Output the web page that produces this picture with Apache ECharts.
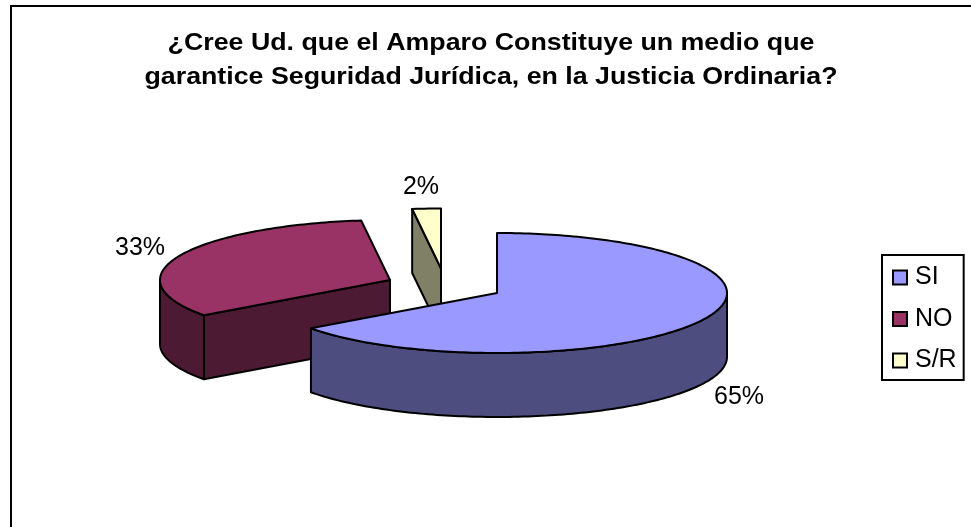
<!DOCTYPE html>
<html><head><meta charset="utf-8">
<style>html,body{margin:0;padding:0;background:#fff}#c{width:971px;height:527px}</style>
<script src="https://cdn.jsdelivr.net/npm/echarts@6/dist/echarts.min.js"></script>
</head><body><div id="c"></div>
<script>
const titleLines = ['¿Cree Ud. que el Amparo Constituye un medio que', 'garantice Seguridad Jurídica, en la Justicia Ordinaria?'];
const categories = ['SI', 'NO', 'S/R'];
const values = [65, 33, 2];
const topColors = ['#9999FF', '#993366', '#FFFFCC'];
const sideColors = ['#4D4D80', '#4D1A33', '#808066'];

const total = values.reduce((a, b) => a + b, 0);
const RX = 230, RY = 60, DEPTH = 64;
// pie apex of each exploded slice and its label anchor
const layout = [
  { cx: 497, cy: 293, lx: 739, ly: 397 },
  { cx: 390, cy: 280, lx: 140, ly: 248 },
  { cx: 441, cy: 268.5, lx: 421, ly: 187 }
];
function pt(s, t, dy) {
  return [s.cx + RX * Math.sin(t), s.cy - RY * Math.cos(t) + (dy || 0)];
}
function arcPts(s, a, b, dy) {
  const n = Math.max(2, Math.ceil(Math.abs(b - a) / 0.02)), out = [];
  for (let i = 0; i <= n; i++) out.push(pt(s, a + (b - a) * i / n, dy));
  return out;
}
const line = { stroke: '#000', lineWidth: 2, lineJoin: 'round' };
function poly(points, fill) {
  return { type: 'polygon', shape: { points }, style: Object.assign({ fill }, line) };
}
function drawSlice(idx, params, api) {
  const s = layout[idx];
  const start = values.slice(0, idx).reduce((a, b) => a + b, 0);
  const a0 = start / total * Math.PI * 2;
  const a1 = a0 + api.value(0) / total * Math.PI * 2;
  const apex = [s.cx, s.cy];
  const low = [s.cx, s.cy + DEPTH];
  const kids = [];
  const side = sideColors[idx];
  // radial wall at the start of the slice, when it faces the viewer
  if (idx > 0) {
    kids.push(poly([apex, pt(s, a0), pt(s, a0, DEPTH), low], side));
  }
  // outer rim: only the front half of the ellipse is seen
  const from = Math.max(a0, Math.PI / 2), to = Math.min(a1, 3 * Math.PI / 2);
  if (to > from) {
    kids.push(poly(arcPts(s, from, to).concat(arcPts(s, to, from, DEPTH)), side));
  }
  kids.push(poly([apex].concat(arcPts(s, a0, a1)), topColors[idx]));
  kids.push({
    type: 'text',
    style: {
      text: Math.round(api.value(0) / total * 100) + '%',
      x: s.lx, y: s.ly, align: 'center', verticalAlign: 'middle',
      fill: '#000', font: '25px "Liberation Sans", Arial, sans-serif'
    }
  });
  return { type: 'group', children: kids };
}
// slices are painted back to front, the legend keeps the source order
const paintOrder = [1, 2, 0];
const series = paintOrder.map(i => ({
  type: 'custom', name: categories[i], coordinateSystem: 'none',
  data: [[values[i]]],
  itemStyle: { color: topColors[i], borderColor: '#000', borderWidth: 2 },
  renderItem: (p, api) => drawSlice(i, p, api)
}));

const chart = echarts.init(document.getElementById('c'), null, { renderer: 'canvas' });
chart.setOption({
  animation: false,
  backgroundColor: '#fff',
  legend: {
    data: categories,
    orient: 'vertical', left: 882, top: 255, padding: [10, 7, 7, 10],
    itemWidth: 14, itemHeight: 14, itemGap: 16.5,
    icon: 'rect', selectedMode: false,
    borderColor: '#000', borderWidth: 2,
    textStyle: { fontFamily: '"Liberation Sans", Arial, sans-serif', fontSize: 25, color: '#000', padding: [0, 0, 0, 3] }
  },
  graphic: [{
    type: 'polyline', silent: true, z: -1,
    shape: { points: [[11, 527], [11, 6], [971, 6]] },
    style: { stroke: '#000', lineWidth: 2, fill: null }
  }, {
    type: 'text', silent: true,
    x: 491, y: 26, scaleX: 1.115,
    style: {
      text: titleLines.join('\n'), align: 'center', verticalAlign: 'top',
      lineHeight: 34, fill: '#000',
      font: 'bold 24px "Liberation Sans", Arial, sans-serif'
    }
  }],
  series
});
</script></body></html>
